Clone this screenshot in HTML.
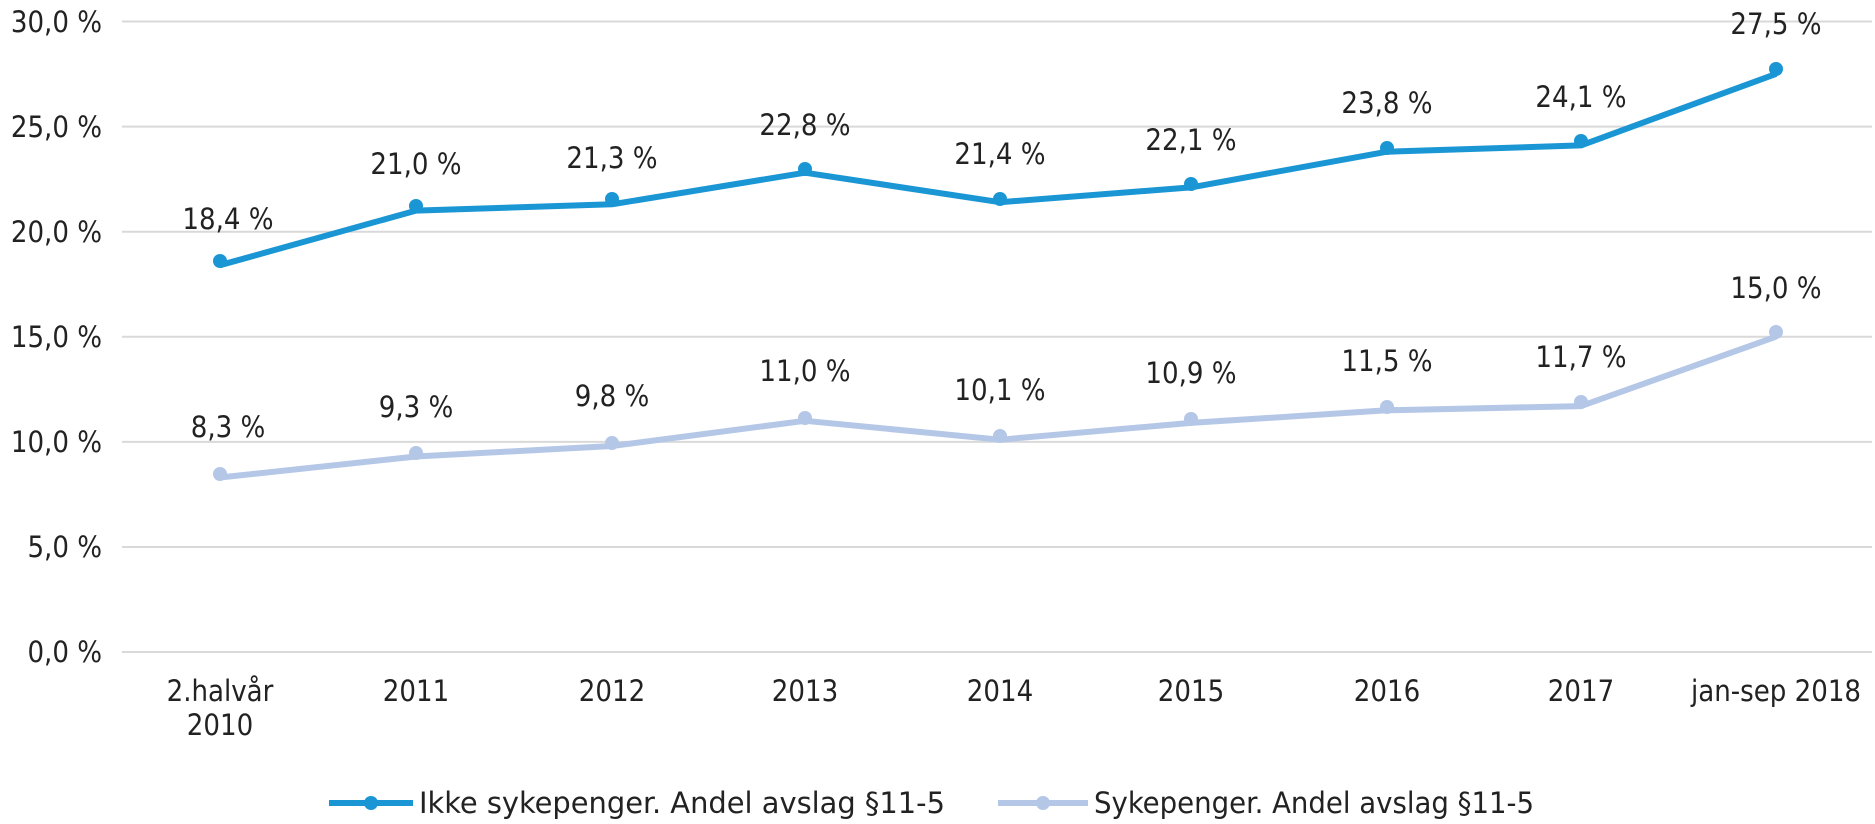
<!DOCTYPE html>
<html><head><meta charset="utf-8"><style>
html,body{margin:0;padding:0;background:#fff;}
svg text{font-family:"DejaVu Sans Condensed","DejaVu Sans","Liberation Sans",sans-serif;font-stretch:condensed;fill:#222;font-size:29px;}
</style></head><body>
<svg width="1875" height="819" xmlns="http://www.w3.org/2000/svg">
<g stroke="#d9d9d9" stroke-width="2">
<line x1="122" x2="1872" y1="21.5" y2="21.5"/>
<line x1="122" x2="1872" y1="126.6" y2="126.6"/>
<line x1="122" x2="1872" y1="231.7" y2="231.7"/>
<line x1="122" x2="1872" y1="336.8" y2="336.8"/>
<line x1="122" x2="1872" y1="441.9" y2="441.9"/>
<line x1="122" x2="1872" y1="547" y2="547"/>
<line x1="122" x2="1872" y1="652" y2="652"/>
</g>
<g text-anchor="end">
<text x="102" y="32">30,0 %</text>
<text x="102" y="137">25,0 %</text>
<text x="102" y="242">20,0 %</text>
<text x="102" y="347">15,0 %</text>
<text x="102" y="452">10,0 %</text>
<text x="102" y="557">5,0 %</text>
<text x="102" y="662">0,0 %</text>
</g>
<g text-anchor="middle">
<text x="220" y="701">2.halvår</text><text x="220" y="735">2010</text>
<text x="416" y="701">2011</text>
<text x="612" y="701">2012</text>
<text x="805" y="701">2013</text>
<text x="1000" y="701">2014</text>
<text x="1191" y="701">2015</text>
<text x="1387" y="701">2016</text>
<text x="1581" y="701">2017</text>
<text x="1776" y="701">jan-sep 2018</text>
</g>
<polyline fill="none" stroke="#b4c7e7" stroke-width="6" stroke-linejoin="round" points="220,477.5 416,456.5 612,446 805,420.8 1000,439.7 1191,422.9 1387,410.3 1581,406.1 1776,336.7"/>
<g fill="#b4c7e7">
<circle cx="220" cy="474" r="7"/><circle cx="416" cy="453" r="7"/><circle cx="612" cy="443" r="7"/><circle cx="805" cy="418" r="7"/><circle cx="1000" cy="436" r="7"/><circle cx="1191" cy="419" r="7"/><circle cx="1387" cy="407" r="7"/><circle cx="1581" cy="402" r="7"/><circle cx="1776" cy="332" r="7"/>
</g>
<polyline fill="none" stroke="#1a96d4" stroke-width="6" stroke-linejoin="round" points="220,265.2 416,210.6 612,204.3 805,172.7 1000,202.2 1191,187.4 1387,151.7 1581,145.4 1776,73.9"/>
<g fill="#1a96d4">
<circle cx="220" cy="261" r="7"/><circle cx="416" cy="206" r="7"/><circle cx="612" cy="199" r="7"/><circle cx="805" cy="169" r="7"/><circle cx="1000" cy="199" r="7"/><circle cx="1191" cy="184" r="7"/><circle cx="1387" cy="148" r="7"/><circle cx="1581" cy="141" r="7"/><circle cx="1776" cy="69" r="7"/>
</g>
<g text-anchor="middle">
<text x="228" y="229">18,4 %</text><text x="416" y="174">21,0 %</text><text x="612" y="168">21,3 %</text><text x="805" y="135">22,8 %</text><text x="1000" y="164">21,4 %</text><text x="1191" y="150">22,1 %</text><text x="1387" y="113">23,8 %</text><text x="1581" y="107">24,1 %</text><text x="1776" y="34">27,5 %</text>
<text x="228" y="437">8,3 %</text><text x="416" y="417">9,3 %</text><text x="612" y="406">9,8 %</text><text x="805" y="381">11,0 %</text><text x="1000" y="400">10,1 %</text><text x="1191" y="383">10,9 %</text><text x="1387" y="371">11,5 %</text><text x="1581" y="367">11,7 %</text><text x="1776" y="298">15,0 %</text>
</g>
<line x1="329" x2="413" y1="803" y2="803" stroke="#1a96d4" stroke-width="6"/>
<circle cx="371" cy="803" r="7" fill="#1a96d4"/>
<text x="419" y="813" textLength="526" lengthAdjust="spacingAndGlyphs">Ikke sykepenger.  Andel avslag §11-5</text>
<line x1="998" x2="1088" y1="803" y2="803" stroke="#b4c7e7" stroke-width="6"/>
<circle cx="1043" cy="803" r="7" fill="#b4c7e7"/>
<text x="1094" y="813" textLength="440" lengthAdjust="spacingAndGlyphs">Sykepenger. Andel avslag §11-5</text>
</svg>
</body></html>
